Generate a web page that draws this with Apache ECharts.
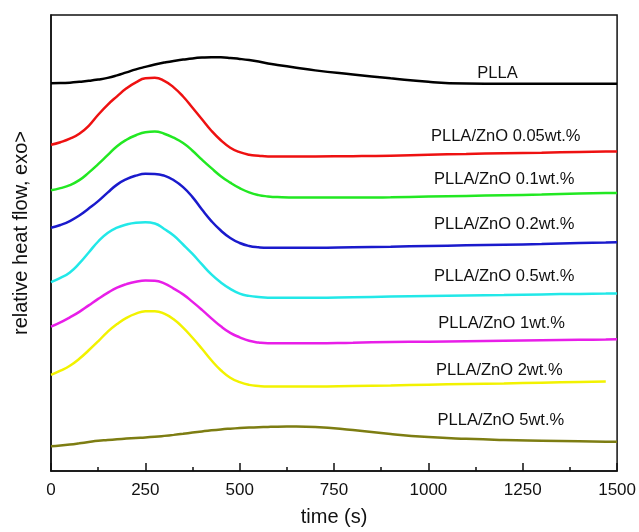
<!DOCTYPE html>
<html lang="en">
<head>
    <meta charset="UTF-8">
    <title>relative heat flow vs time</title>
    <script src="https://cdn.jsdelivr.net/npm/echarts@6.0.0/dist/echarts.min.js"></script>
    <style>
        html, body { margin: 0; padding: 0; background: #fff; }
        #chart { width: 639px; height: 532px; }
    </style>
</head>
<body>
    <div id="chart"></div>
    <script>
        // time (s) sample points, shared by all curves
        const times = [0, 25, 50, 75, 100, 125, 150, 175, 200, 225, 250, 275, 300, 325, 350, 375, 400, 425, 450, 475,
                       500, 525, 550, 575, 600, 650, 700, 800, 900, 1000, 1100, 1200, 1300, 1400, 1470, 1500];

        // relative heat flow (arbitrary units, curves offset vertically)
        const pllaVals   = [388.7, 388.8, 389.2, 390, 391, 392.3, 394, 396.5, 399.5, 402.5, 405, 407.3, 409.3, 411, 412.3, 413.5, 414.3, 414.7, 414.6, 414,
                            413, 411.8, 410.3, 408.5, 407, 404.2, 401.5, 397.4, 393.5, 390, 388.3, 388, 388, 388, 388, 388];
        const zno005Vals = [327, 329.5, 333, 338, 346, 357, 367, 375.5, 383.5, 389.5, 393.5, 394, 391, 384.5, 375.3, 364, 352.5, 341, 331.5, 324,
                            319.5, 317, 316, 315.3, 315.3, 315.3, 315.3, 315.5, 316, 317, 317.7, 318.5, 319, 319.7, 320.2, 320.3];
        const zno01Vals  = [281.3, 283.5, 286.5, 291.5, 299, 307.5, 316.5, 325.5, 332, 336.5, 339.5, 340.2, 338, 334, 328.7, 321, 312, 303.5, 295.5, 289,
                            283.5, 279.2, 276.5, 275.2, 274.5, 274, 274, 274, 274.3, 275, 275.7, 276.3, 277, 278, 278.5, 278.7];
        const zno02Vals  = [243.7, 246.5, 250.5, 256, 263, 270.5, 279, 287, 292.5, 296, 297.8, 297.7, 296, 291.5, 284.5, 274.5, 262, 250.5, 241, 233.5,
                            228.5, 225.5, 224.2, 223.7, 223.7, 223.7, 223.7, 224.2, 224.8, 225.5, 226.2, 226.8, 227.5, 228.5, 229, 229.3];
        const zno05Vals  = [189.3, 193.5, 199, 208, 219, 230, 238.5, 243.8, 247, 248.8, 249.3, 248, 242.5, 236, 227, 217.5, 207, 197, 189, 182.5,
                            177.8, 175.5, 174.3, 173.7, 173.7, 173.7, 173.7, 174.2, 174.8, 175.3, 175.8, 176.3, 177, 177.5, 177.8, 178];
        const zno1Vals   = [144.7, 149, 154, 159.5, 166, 172.5, 178.5, 183.7, 187.3, 189.7, 190.9, 190.7, 188, 182.8, 177, 169.5, 161.5, 153, 145, 138.5,
                            134, 130.5, 128.8, 128, 128, 128, 128, 128.6, 129.2, 129.6, 130, 130.5, 131, 131.5, 131.8, 132];
        const zno2Vals   = [96.3, 100.5, 105.5, 112.5, 121, 130, 139.5, 147.3, 153.5, 157.7, 160, 160.2, 157.8, 152, 143.7, 133.5, 122.5, 111, 101, 93.5,
                            89, 86.3, 85.2, 84.7, 84.7, 84.7, 84.7, 85.2, 85.8, 86.5, 87.2, 87.8, 88.5, 89.2, 89.7, null];
        const zno5Vals   = [24.7, 25.5, 26.5, 27.7, 29, 30.2, 31, 31.8, 32.5, 33.1, 33.6, 34.3, 35.2, 36.2, 37.3, 38.5, 39.7, 40.8, 41.7, 42.4,
                            43, 43.5, 43.9, 44.2, 44.4, 44.5, 44.1, 41, 37, 34, 32.2, 31, 30.3, 29.7, 29.4, 29.3];

        const seriesNames = ['PLLA', 'PLLA/ZnO 0.05wt.%', 'PLLA/ZnO 0.1wt.%', 'PLLA/ZnO 0.2wt.%',
                             'PLLA/ZnO 0.5wt.%', 'PLLA/ZnO 1wt.%', 'PLLA/ZnO 2wt.%', 'PLLA/ZnO 5wt.%'];
        // where each curve's name sits, as [time, heat flow]
        const labelAt = [[1183, 398], [1205, 335.3], [1201, 292], [1201, 247],
                         [1201, 194.7], [1194, 148], [1188, 101], [1192, 50.3]];
        const xTicks = [0, 250, 500, 750, 1000, 1250, 1500];

        const allVals = [pllaVals, zno005Vals, zno01Vals, zno02Vals, zno05Vals, zno1Vals, zno2Vals, zno5Vals];
        const colors = ['#000000', '#ee1111', '#22e822', '#1a1acc', '#22e8e8', '#e81ee8', '#f2f200', '#7d7d12'];
        const font = '"Liberation Sans", Arial, sans-serif';

        const chart = echarts.init(document.getElementById('chart'));

        const series = allVals.map((vals, i) => ({
            name: seriesNames[i],
            type: 'line',
            data: times.map((t, k) => [t, vals[k]]).filter(p => p[1] !== null),
            smooth: 0.5,
            showSymbol: false,
            silent: true,
            lineStyle: { color: colors[i], width: 2.5 },
            markPoint: {
                symbol: 'circle',
                symbolSize: 0,
                silent: true,
                label: {
                    show: true,
                    position: 'inside',
                    formatter: seriesNames[i],
                    color: '#111',
                    fontFamily: font,
                    fontSize: 16.5
                },
                data: [{ coord: labelAt[i] }]
            }
        }));

        const option = {
            animation: false,
            grid: {
                left: 51, right: 21, top: 15, bottom: 60,
                show: true, borderColor: '#111', borderWidth: 1.5
            },
            xAxis: {
                type: 'value',
                min: 0, max: 1500, interval: 250,
                name: 'time (s)',
                nameLocation: 'middle',
                nameGap: 36,
                nameTextStyle: { color: '#111', fontSize: 20, fontFamily: font },
                axisLine: { lineStyle: { color: '#111', width: 1.5 } },
                axisTick: { inside: true, length: 8, lineStyle: { color: '#111', width: 1.5 } },
                minorTick: { show: true, splitNumber: 2, length: 4, lineStyle: { color: '#111', width: 1.5 } },
                axisLabel: {
                    margin: 11, color: '#111', fontSize: 17, fontFamily: font,
                    formatter: v => xTicks.includes(v) ? String(v) : ''
                },
                splitLine: { show: false }
            },
            yAxis: {
                type: 'value',
                min: 0, max: 457,
                name: 'relative heat flow, exo>',
                nameLocation: 'middle',
                nameGap: 20,
                nameTextStyle: { color: '#111', fontSize: 20, fontFamily: font, padding: [0, 0, 0, 20] },
                axisLine: { show: true, lineStyle: { color: '#111', width: 1.5 } },
                axisTick: { show: false },
                axisLabel: { show: false },
                splitLine: { show: false }
            },
            series: series
        };

        chart.setOption(option);
    </script>
</body>
</html>
